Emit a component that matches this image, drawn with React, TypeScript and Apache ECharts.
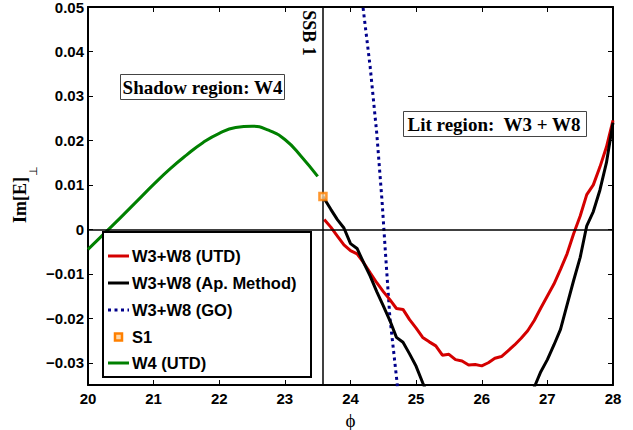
import React, { useEffect, useRef } from "react";
import * as echarts from "echarts";

// ---- data ----
const utdPhi = [23.6, 23.7, 23.8, 23.9, 24.0, 24.1, 24.2, 24.3, 24.4, 24.5, 24.6, 24.7, 24.8, 24.9, 25.0, 25.1, 25.2, 25.3, 25.4, 25.5, 25.6, 25.7, 25.8, 25.9, 26.0, 26.1, 26.2, 26.3, 26.4, 26.5, 26.6, 26.7, 26.8, 26.9, 27.0, 27.1, 27.2, 27.3, 27.4, 27.5, 27.6, 27.7, 27.8, 27.9, 28.0];
const utdVal = [0.0022, 0.0005, -0.0015, -0.0035, -0.0048, -0.0055, -0.0075, -0.0098, -0.012, -0.014, -0.0158, -0.0178, -0.018, -0.0203, -0.0222, -0.0243, -0.0253, -0.0262, -0.0283, -0.0281, -0.0293, -0.0296, -0.0305, -0.0304, -0.0307, -0.03, -0.029, -0.0286, -0.0273, -0.026, -0.0245, -0.0228, -0.0205, -0.0177, -0.015, -0.0123, -0.009, -0.0055, -0.001, 0.003, 0.0078, 0.01, 0.014, 0.0185, 0.0245];

const apPhi = [23.58, 23.7, 23.8, 23.9, 24.0, 24.1, 24.2, 24.3, 24.4, 24.5, 24.6, 24.7, 24.8, 24.9, 25.0, 25.1, 25.2, 25.5, 26.0, 26.5, 26.8, 26.9, 27.0, 27.1, 27.2, 27.3, 27.4, 27.5, 27.6, 27.7, 27.8, 27.9, 28.0];
const apVal = [0.0074, 0.0045, 0.0022, 0.0003, -0.0032, -0.0043, -0.0075, -0.0105, -0.014, -0.0172, -0.0205, -0.0243, -0.0254, -0.028, -0.0308, -0.0345, -0.038, -0.045, -0.05, -0.045, -0.0355, -0.032, -0.0293, -0.026, -0.0225, -0.017, -0.0115, -0.0063, 0.0008, 0.004, 0.0088, 0.015, 0.024];

const goPhi = [24.15, 24.19, 24.3, 24.4, 24.48, 24.53, 24.6, 24.71, 24.74];
const goVal = [0.06, 0.05, 0.0365, 0.0216, 0.0065, -0.0047, -0.0198, -0.0345, -0.04];

const s1Phi = [23.58];
const s1Val = [0.0074];

const w4Phi = [20.0, 20.25, 20.5, 20.75, 21.0, 21.25, 21.5, 21.75, 22.0, 22.25, 22.5, 22.75, 23.0, 23.25, 23.5];
const w4Val = [-0.0045, -0.0009, 0.0027, 0.0064, 0.0101, 0.0136, 0.0167, 0.0195, 0.0216, 0.0229, 0.0232, 0.0223, 0.0202, 0.0164, 0.0119];

const ssbPhi = 23.58;
const yTicks = [-0.03, -0.02, -0.01, 0, 0.01, 0.02, 0.03, 0.04, 0.05];
const xMin = 20;
const xMax = 28;
const yMin = -0.035;
const yMax = 0.05;

const legendNames = ["W3+W8 (UTD)", "W3+W8 (Ap. Method)", "W3+W8 (GO)", "S1", "W4 (UTD)"];
const colors = {
  utd: "#d40000",
  ap: "#000000",
  go: "#00008b",
  s1: "#ff8000",
  w4: "#008000",
};

const zip = (a: number[], b: number[]) => a.map((v, i) => [v, b[i]]);

export default function App() {
  const ref = useRef<HTMLDivElement>(null);
  useEffect(() => {
    if (!ref.current) return;
    const chart = echarts.init(ref.current, null, { renderer: "svg" });
    const sans = "Liberation Sans, Arial, sans-serif";
    const serif = "Liberation Serif, Times New Roman, serif";
    const fmtY = (v: number) => (Math.abs(v) < 1e-9 ? "0" : v.toFixed(2).replace("-", "\u2212"));

    const axisLine = { show: true, onZero: false, lineStyle: { color: "#000", width: 2 } };
    const legendY = [256, 283, 310, 337, 363];
    const legendItems: any[] = [];
    const styles = [
      { c: colors.utd, dash: null as any, kind: "line" },
      { c: colors.ap, dash: null, kind: "line" },
      { c: colors.go, dash: [3, 3.5], kind: "line" },
      { c: colors.s1, dash: null, kind: "sq" },
      { c: colors.w4, dash: null, kind: "line" },
    ];
    legendNames.forEach((n, i) => {
      const s = styles[i];
      if (s.kind === "line") {
        const st: any = { stroke: s.c, lineWidth: 3 };
        if (s.dash) st.lineDash = s.dash;
        legendItems.push({
          type: "line",
          z: 20,
          shape: { x1: 108, y1: legendY[i], x2: 129, y2: legendY[i] },
          style: st,
        });
      } else {
        legendItems.push({
          type: "rect",
          z: 20,
          shape: { x: 115, y: legendY[i] - 3.5, width: 7, height: 7 },
          style: { fill: "#ffd8a8", stroke: s.c, lineWidth: 2.5 },
        });
      }
      legendItems.push({
        type: "text",
        z: 20,
        x: 132,
        y: legendY[i],
        style: { text: n, fontFamily: sans, fontWeight: "bold", fontSize: 16.5, fill: "#000", verticalAlign: "middle" },
      });
    });

    chart.setOption({
      animation: false,
      backgroundColor: "#fff",
      grid: { left: 88, right: 20, top: 7, bottom: 45, outerBoundsMode: "none", containLabel: false },
      xAxis: [
        {
          type: "value",
          min: xMin,
          max: xMax,
          interval: 1,
          name: "\u03d5",
          nameLocation: "middle",
          nameGap: 19,
          nameTextStyle: { fontFamily: serif, fontSize: 19, color: "#000" },
          axisLine,
          axisTick: { inside: true, length: 5, lineStyle: { color: "#000", width: 1 } },
          axisLabel: { margin: 6, fontFamily: sans, fontWeight: "bold", fontSize: 15, color: "#000" },
          splitLine: { show: false },
        },
        {
          type: "value",
          position: "top",
          min: xMin,
          max: xMax,
          interval: 1,
          axisLine,
          axisTick: { inside: true, length: 5, lineStyle: { color: "#000", width: 1 } },
          axisLabel: { show: false },
          splitLine: { show: false },
        },
      ],
      yAxis: [
        {
          type: "value",
          min: yMin,
          max: yMax,
          axisLine,
          axisTick: { inside: true, length: 5, customValues: yTicks, lineStyle: { color: "#000", width: 1 } },
          axisLabel: { customValues: yTicks, margin: 4, formatter: fmtY, fontFamily: sans, fontWeight: "bold", fontSize: 15, color: "#000" },
          splitLine: { show: false },
        },
        {
          type: "value",
          position: "right",
          min: yMin,
          max: yMax,
          axisLine,
          axisTick: { inside: true, length: 5, customValues: yTicks, lineStyle: { color: "#000", width: 1 } },
          axisLabel: { show: false },
          splitLine: { show: false },
        },
      ],
      series: [
        {
          name: legendNames[4],
          type: "line",
          data: zip(w4Phi, w4Val),
          smooth: 0.5,
          showSymbol: false,
          lineStyle: { color: colors.w4, width: 3 },
          z: 3,
        },
        {
          name: legendNames[2],
          type: "line",
          data: zip(goPhi, goVal),
          showSymbol: false,
          lineStyle: { color: colors.go, width: 3, type: [3, 3.5] },
          z: 3,
        },
        {
          name: legendNames[0],
          type: "line",
          data: zip(utdPhi, utdVal),
          showSymbol: false,
          lineStyle: { color: colors.utd, width: 3 },
          z: 4,
        },
        {
          name: legendNames[1],
          type: "line",
          data: zip(apPhi, apVal),
          showSymbol: false,
          lineStyle: { color: colors.ap, width: 3 },
          z: 5,
        },
        {
          name: legendNames[3],
          type: "scatter",
          data: zip(s1Phi, s1Val),
          symbol: "rect",
          symbolSize: 7,
          itemStyle: { color: "#ffd8a8", borderColor: colors.s1, borderWidth: 2.5 },
          z: 6,
          markLine: {
            silent: true,
            symbol: ["none", "none"],
            label: { show: false },
            lineStyle: { color: "#000", width: 1.5, type: "solid" },
            data: [{ xAxis: ssbPhi }, { yAxis: 0 }],
          },
        },
      ],
      graphic: [
        // y-axis name
        {
          type: "group",
          x: 20,
          y: 223,
          rotation: Math.PI / 2,
          children: [
            { type: "text", x: 0, y: 0, style: { text: "Im[E]", fontFamily: serif, fontWeight: "bold", fontSize: 18, fill: "#000000", verticalAlign: "middle" } },
            { type: "text", x: 47, y: 13, style: { text: "\u22a5", fontFamily: "DejaVu Sans", fontSize: 11, fill: "#000000", verticalAlign: "middle" } },
          ],
        },
        // SSB 1 label
        {
          type: "text",
          x: 308.5,
          y: 33,
          rotation: -Math.PI / 2,
          style: { text: "SSB 1", fontFamily: serif, fontWeight: "bold", fontSize: 18, fill: "#000", align: "center", verticalAlign: "middle" },
        },
        // region boxes
        {
          type: "rect",
          shape: { x: 120.5, y: 74.5, width: 164, height: 25 },
          style: { fill: "#fff", stroke: "#444", lineWidth: 1 },
          z: 10,
        },
        {
          type: "text",
          x: 202.5,
          y: 87.5,
          z: 11,
          style: { text: "Shadow region: W4", fontFamily: serif, fontWeight: "bold", fontSize: 19, fill: "#000", align: "center", verticalAlign: "middle" },
        },
        {
          type: "rect",
          shape: { x: 403.5, y: 111.5, width: 183, height: 25 },
          style: { fill: "#fff", stroke: "#444", lineWidth: 1 },
          z: 10,
        },
        {
          type: "text",
          x: 494,
          y: 124.5,
          z: 11,
          style: { text: "Lit region:  W3 + W8", fontFamily: serif, fontWeight: "bold", fontSize: 19, fill: "#000", align: "center", verticalAlign: "middle" },
        },
        // legend box
        {
          type: "rect",
          shape: { x: 103, y: 232, width: 208, height: 145 },
          style: { fill: "#fff", stroke: "#000", lineWidth: 2 },
          z: 10,
        },
        ...legendItems,
      ],
    });
    return () => chart.dispose();
  }, []);
  return <div ref={ref} style={{ position: "fixed", left: 0, top: 0, width: 633, height: 430 }} />;
}
